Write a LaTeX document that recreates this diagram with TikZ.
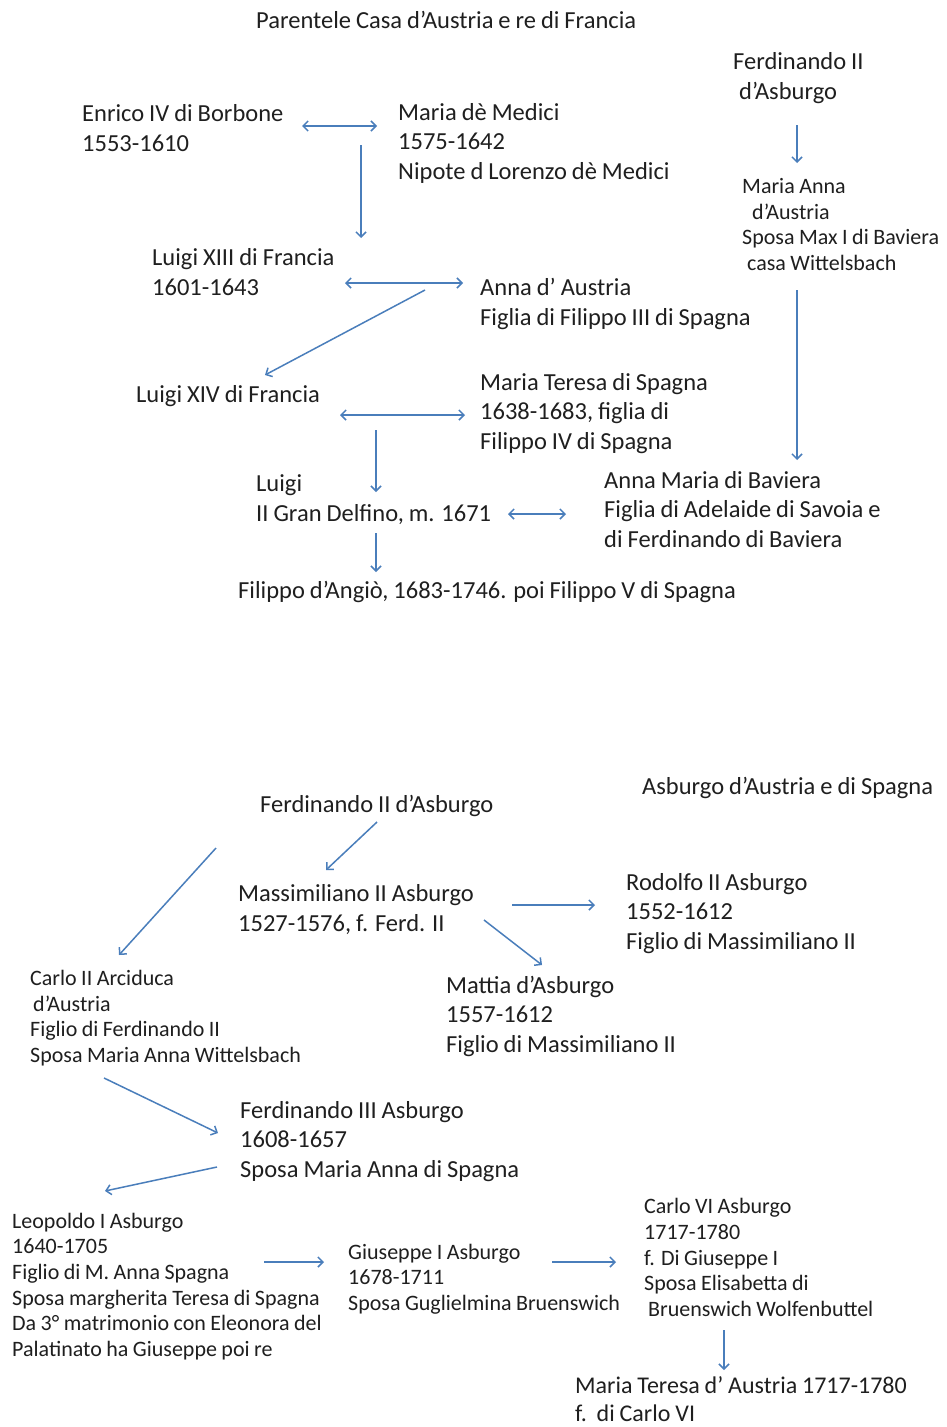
\documentclass[tikz,border=0pt]{standalone}
\usepackage{fontspec}
\setmainfont{Carlito}[WordSpace=0.9]
\usetikzlibrary{arrows.meta}
\definecolor{arrowblue}{HTML}{4A7EBB}
\definecolor{txt}{HTML}{1F1F1F}
\tikzset{
  big/.style={anchor=base west, inner sep=0pt, align=left, text=txt, font=\fontsize{24.5}{29.5}\selectfont},
  small/.style={anchor=base west, inner sep=0pt, align=left, text=txt, font=\fontsize{22}{25.7}\selectfont},
  arr/.style={draw=arrowblue, line width=1.5pt, -{Straight Barb[length=5pt,width=10pt]}},
  dbl/.style={draw=arrowblue, line width=1.5pt, {Straight Barb[length=5pt,width=10pt]}-{Straight Barb[length=5pt,width=10pt]}}
}
\begin{document}
\begin{tikzpicture}[x=1pt,y=-1pt]
\useasboundingbox[fill=white] (0,0) rectangle (946,1427);

% ---------- top section (node positions = baseline of last line) ----------
\node[big] (title) at (256,28.5) {Parentele Casa d’Austria e re di Francia};
\node[big] (enrico) at (82,151) {Enrico IV di Borbone\\1553-1610};
\node[big] (medici) at (398,179) {Maria dè Medici\\1575-1642\\Nipote d Lorenzo dè Medici};
\node[big] (ferd) at (733,99) {Ferdinando II\\\hspace{6pt}d’Asburgo};
\node[small] (manna) at (742,270.5) {Maria Anna\\\hspace{10pt}d’Austria\\Sposa Max I di Baviera\\\hspace{5pt}casa Wittelsbach};
\node[big] (l13) at (152,295) {Luigi XIII di Francia\\1601-1643};
\node[big] (anna) at (480,325) {Anna d’ Austria\\Figlia di Filippo III di Spagna};
\node[big] (l14) at (136,402) {Luigi XIV di Francia};
\node[big] (mteresa) at (480,449) {Maria Teresa di Spagna\\1638-1683, figlia di\\Filippo IV di Spagna};
\node[big] (delfino) at (256,521) {Luigi\\II Gran Delfino, m. 1671};
\node[big] (amaria) at (604,547) {Anna Maria di Baviera\\Figlia di Adelaide di Savoia e\\di Ferdinando di Baviera};
\node[big] (filippo) at (238,598) {Filippo d’Angiò, 1683-1746. poi Filippo V di Spagna};

\coordinate (e1) at (302,126); \coordinate (e2) at (377,126);
\coordinate (m1) at (361,145); \coordinate (m2) at (361,238);
\coordinate (f1) at (797,125); \coordinate (f2) at (797,163);
\coordinate (l1) at (345,283); \coordinate (l2) at (463,283);
\coordinate (d1) at (425,290); \coordinate (d2) at (265,375);
\coordinate (r1) at (797,290); \coordinate (r2) at (797,460);
\coordinate (t1) at (340,415); \coordinate (t2) at (465,415);
\coordinate (v1) at (376,430); \coordinate (v2) at (376,492);
\coordinate (g1) at (508,514); \coordinate (g2) at (566,514);
\coordinate (w1) at (376,533); \coordinate (w2) at (376,572);

\draw[dbl] (e1) -- (e2);
\draw[arr] (m1) -- (m2);
\draw[arr] (f1) -- (f2);
\draw[dbl] (l1) -- (l2);
\draw[arr] (d1) -- (d2);
\draw[arr] (r1) -- (r2);
\draw[dbl] (t1) -- (t2);
\draw[arr] (v1) -- (v2);
\draw[dbl] (g1) -- (g2);
\draw[arr] (w1) -- (w2);

% ---------- bottom section ----------
\node[big] (title2) at (642,794) {Asburgo d’Austria e di Spagna};
\node[big] (ferd2) at (260,812) {Ferdinando II d’Asburgo};
\node[big] (massi) at (238,931) {Massimiliano II Asburgo\\1527-1576, f. Ferd. II};
\node[big] (rodolfo) at (626,949) {Rodolfo II Asburgo\\1552-1612\\Figlio di Massimiliano II};
\node[small] (carlo2) at (30,1062.5) {Carlo II Arciduca\\\hspace{3pt}d’Austria\\Figlio di Ferdinando II\\Sposa Maria Anna Wittelsbach};
\node[big] (mattia) at (446,1052) {Mattia d’Asburgo\\1557-1612\\Figlio di Massimiliano II};
\node[big] (ferd3) at (240,1177) {Ferdinando III Asburgo\\1608-1657\\Sposa Maria Anna di Spagna};
\node[small] (leop) at (12,1356.5) {Leopoldo I Asburgo\\1640-1705\\Figlio di M. Anna Spagna\\Sposa margherita Teresa di Spagna\\Da 3° matrimonio con Eleonora del\\Palatinato ha Giuseppe poi re};
\node[small] (gius) at (348,1310.5) {Giuseppe I Asburgo\\1678-1711\\Sposa Guglielmina Bruenswich};
\node[small] (carlo6) at (644,1316.5) {Carlo VI Asburgo\\1717-1780\\f. Di Giuseppe I\\Sposa Elisabetta di\\\hspace{4pt}Bruenswich Wolfenbuttel};
\node[anchor=base west, inner sep=0pt, align=left, text=txt, font=\fontsize{24}{28}\selectfont] (mter2) at (575,1421) {Maria Teresa d’ Austria 1717-1780\\f.\ \ di Carlo VI};

\coordinate (a1) at (377,822); \coordinate (a2) at (326,870);
\coordinate (b1) at (216,848); \coordinate (b2) at (119,955);
\coordinate (c1) at (512,905); \coordinate (c2) at (595,905);
\coordinate (h1) at (484,920); \coordinate (h2) at (542,965);
\coordinate (k1) at (104,1078); \coordinate (k2) at (218,1133);
\coordinate (n1) at (217,1167); \coordinate (n2) at (105,1191);
\coordinate (p1) at (264,1262); \coordinate (p2) at (324,1262);
\coordinate (q1) at (552,1262); \coordinate (q2) at (616,1262);
\coordinate (s1) at (724,1330); \coordinate (s2) at (724,1370);

\draw[arr] (a1) -- (a2);
\draw[arr] (b1) -- (b2);
\draw[arr] (c1) -- (c2);
\draw[arr] (h1) -- (h2);
\draw[arr] (k1) -- (k2);
\draw[arr] (n1) -- (n2);
\draw[arr] (p1) -- (p2);
\draw[arr] (q1) -- (q2);
\draw[arr] (s1) -- (s2);
\end{tikzpicture}
\end{document}
